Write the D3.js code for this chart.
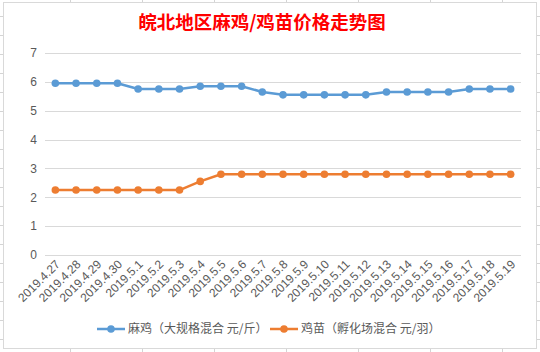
<!DOCTYPE html>
<html><head><meta charset="utf-8">
<script src="https://cdn.jsdelivr.net/npm/d3@7"></script>
<style>body{margin:0;background:#fff}svg{display:block}</style>
</head><body>
<svg id="c" width="540" height="352"></svg>
<script>
const dates = ["2019.4.27","2019.4.28","2019.4.29","2019.4.30","2019.5.1","2019.5.2","2019.5.3","2019.5.4","2019.5.5","2019.5.6","2019.5.7","2019.5.8","2019.5.9","2019.5.10","2019.5.11","2019.5.12","2019.5.13","2019.5.14","2019.5.15","2019.5.16","2019.5.17","2019.5.18","2019.5.19"];
const maji = [5.95,5.95,5.95,5.95,5.75,5.75,5.75,5.85,5.85,5.85,5.65,5.55,5.55,5.55,5.55,5.55,5.65,5.65,5.65,5.65,5.75,5.75,5.75];
const jimiao = [2.25,2.25,2.25,2.25,2.25,2.25,2.25,2.55,2.8,2.8,2.8,2.8,2.8,2.8,2.8,2.8,2.8,2.8,2.8,2.8,2.8,2.8,2.8];
const yTicks = [0,1,2,3,4,5,6,7];
const seriesNames = ["麻鸡（大规格混合 元/斤）","鸡苗（孵化场混合 元/羽）"];
const colors = ["#5B9BD5","#ED7D31"];
const title = "皖北地区麻鸡/鸡苗价格走势图";

(function(){
const svg = d3.select("#c");
const font = "'Noto Sans CJK SC','Liberation Sans',sans-serif";
const numFont = "'Liberation Sans','DejaVu Sans',sans-serif";

// spreadsheet cell grid behind chart
const bg = svg.append("g");
for (let xx = 70; xx < 540; xx += 72) bg.append("line").attr("x1",xx+0.5).attr("x2",xx+0.5).attr("y1",0).attr("y2",352).attr("stroke","#d4d4d4");
for (let yy = 16; yy < 352; yy += 19) bg.append("line").attr("x1",0).attr("x2",540).attr("y1",yy+0.5).attr("y2",yy+0.5).attr("stroke","#d4d4d4");
// chart area
svg.append("rect").attr("x",3.5).attr("y",2.5).attr("width",533).attr("height",346).attr("fill","#fff").attr("stroke","#d9d9d9");

const pl = 45, pr = 521, pt = 53, pb = 255;
const x = d3.scalePoint().domain(dates).range([pl, pr]).padding(0.5);
const y = d3.scaleLinear().domain([0,7]).range([pb, pt]);

// gridlines
svg.append("g").selectAll("line").data(yTicks).join("line")
  .attr("x1",pl).attr("x2",pr).attr("y1",d=>Math.round(y(d))+0.5).attr("y2",d=>Math.round(y(d))+0.5)
  .attr("stroke","#d9d9d9").attr("stroke-width",1);

// y axis labels
const yAxis = d3.axisLeft(y).tickValues(yTicks).tickFormat(d3.format("d")).tickSize(0).tickPadding(0);
const gy = svg.append("g").attr("transform",`translate(37,0)`).call(yAxis);
gy.select(".domain").remove();
gy.selectAll("text").attr("font-family",numFont).attr("font-size",12).attr("fill","#595959");

// x axis labels
const xAxis = d3.axisBottom(x).tickSize(0).tickPadding(0);
const gx = svg.append("g").attr("transform",`translate(0,${pb})`).call(xAxis);
gx.select(".domain").remove();
gx.selectAll("text").attr("font-family",numFont).attr("font-size",12).attr("fill","#595959")
  .attr("text-anchor","end").attr("dy",null).attr("y",0)
  .attr("transform","translate(5,10) rotate(-45)");

// lines
const data = [maji, jimiao];
const line = d3.line().x((d,i)=>x(dates[i])).y(d=>y(d));
data.forEach((s,k)=>{
  svg.append("path").datum(s).attr("d",line).attr("fill","none").attr("stroke",colors[k])
    .attr("stroke-width",2.5).attr("stroke-linejoin","round");
  svg.append("g").selectAll("circle").data(s).join("circle")
    .attr("cx",(d,i)=>x(dates[i])).attr("cy",d=>y(d)).attr("r",3.8).attr("fill",colors[k]);
});

// title
svg.append("text").attr("x",262).attr("y",29).attr("text-anchor","middle")
  .attr("font-family",font).attr("font-size",18.5).attr("font-weight","bold").attr("fill","#FF0000").text(title);

// legend
const legX = [97, 270];
seriesNames.forEach((n,k)=>{
  const g = svg.append("g").attr("transform",`translate(${legX[k]},329)`);
  g.append("line").attr("x1",0).attr("x2",28).attr("stroke",colors[k]).attr("stroke-width",2.5);
  g.append("circle").attr("cx",14).attr("r",3.8).attr("fill",colors[k]);
  g.append("text").attr("x",31).attr("dy","0.35em").attr("font-family",font).attr("font-size",12).attr("fill","#595959").text(n);
});
})();
</script>
</body></html>
